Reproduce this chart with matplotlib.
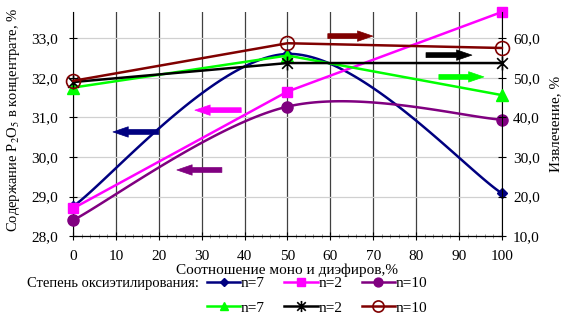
import numpy as np
import matplotlib
matplotlib.use('Agg')
import matplotlib.pyplot as plt
from matplotlib.path import Path
from matplotlib.ticker import MultipleLocator, FuncFormatter

plt.rcParams['font.family'] = ['Liberation Serif', 'DejaVu Serif']
plt.rcParams['mathtext.fontset'] = 'stix'

# данные
x = [0, 50, 100]
# содержание P2O5, % (левая ось)
sod_n7 = [28.75, 32.6, 29.08]
sod_n2 = [28.7, 31.65, 33.66]
sod_n10 = [28.4, 31.27, 30.94]
# извлечение, % (правая ось)
izv_n7 = [47.5, 55.6, 45.6]
izv_n2 = [48.9, 53.7, 53.7]
izv_n10 = [49.2, 58.7, 57.5]

x_ticks = list(range(0, 101, 10))
left_ticks = [28, 29, 30, 31, 32, 33]
right_ticks = [10, 20, 30, 40, 50, 60]

# стрелки-указатели: (x_начало, x_конец, y на левой оси, цвет)
arrows = [
    (20.0, 9.3, 30.63, '#000080'),
    (39.2, 28.4, 31.18, '#FF00FF'),
    (34.7, 24.2, 29.67, '#800080'),
    (59.4, 69.9, 33.05, '#800000'),
    (82.3, 93.0, 32.57, '#000000'),
    (85.3, 95.8, 32.02, '#00FF00'),
]


def smooth(xs, ys, n=60):
    # сглаживание как в Excel (Безье через соседние точки)
    p = np.column_stack([xs, ys]).astype(float)
    pts = np.vstack([p[0], p, p[-1]])
    out = []
    for i in range(1, len(pts) - 2):
        p0, p1, p2, p3 = pts[i - 1], pts[i], pts[i + 1], pts[i + 2]
        c1 = p1 + (p2 - p0) / 6
        c2 = p2 - (p3 - p1) / 6
        t = np.linspace(0, 1, n)[:, None]
        seg = (1 - t) ** 3 * p1 + 3 * (1 - t) ** 2 * t * c1 + 3 * (1 - t) * t ** 2 * c2 + t ** 3 * p2
        out.append(seg)
    s = np.vstack(out)
    return s[:, 0], s[:, 1]


star = Path([(-1, -1), (1, 1), (-1, 1), (1, -1), (0, -1.3), (0, 1.3)],
            [Path.MOVETO, Path.LINETO, Path.MOVETO, Path.LINETO, Path.MOVETO, Path.LINETO])

fig = plt.figure(figsize=(5.71, 3.23), dpi=100)
ax = fig.add_axes([0.128, 0.269, 0.751, 0.694])
ax2 = ax.twinx()

fs = 11
lw = 1.8

# левая ось
sx, sy = smooth(x, sod_n7)
ax.plot(sx, sy, color='#000080', lw=lw, zorder=3)
l1, = ax.plot(x, sod_n7, color='#000080', lw=lw, marker='D', ms=5, ls='none', zorder=3, clip_on=False)
ax.plot(x, sod_n2, color='#FF00FF', lw=lw, zorder=3)
l2, = ax.plot(x, sod_n2, color='#FF00FF', lw=lw, marker='s', ms=7, ls='none', zorder=3, clip_on=False)
sx, sy = smooth(x, sod_n10)
ax.plot(sx, sy, color='#800080', lw=lw, zorder=3)
l3, = ax.plot(x, sod_n10, color='#800080', marker='o', ms=8, ls='none', zorder=3, clip_on=False)

# правая ось
l4, = ax2.plot(x, izv_n7, color='#00FF00', lw=lw, marker='^', ms=8, zorder=3, clip_on=False)
l5, = ax2.plot(x, izv_n2, color='black', lw=lw, marker=star, ms=10, mew=1.2, zorder=3, clip_on=False)
l6, = ax2.plot(x, izv_n10, color='#800000', lw=lw, marker='o', ms=10, mfc='none', mew=1.2, zorder=4,
               clip_on=False)

for x0, x1, yy, c in arrows:
    ax.annotate('', xy=(x1, yy), xytext=(x0, yy),
                arrowprops=dict(arrowstyle='simple,head_length=1.1,head_width=0.75,tail_width=0.35',
                                fc=c, ec=c, lw=0.5, shrinkA=0, shrinkB=0), zorder=5)

ax.set_xlim(0, 100)
ax.set_ylim(28, 33.66)
ax2.set_ylim(10, 66.6)
ax.set_xticks(x_ticks)
ax.set_yticks(left_ticks)
ax2.set_yticks(right_ticks)
ax.xaxis.set_minor_locator(MultipleLocator(2))

fmt = FuncFormatter(lambda v, pos: f"{v:.1f}".replace('.', ','))
ax.yaxis.set_major_formatter(fmt)
ax2.yaxis.set_major_formatter(fmt)

ax.grid(axis='x', color='#404040', lw=0.9)
ax.grid(axis='y', color='#d0d0d0', lw=0.9)
ax.set_axisbelow(True)

for a in (ax, ax2):
    a.spines['top'].set_visible(False)
    a.tick_params(which='major', direction='inout', length=6, width=0.8, labelsize=fs, pad=5)
    a.tick_params(which='minor', direction='inout', length=3, width=0.6, color='#808080')
ax.tick_params(axis='x', pad=7)
ax.tick_params(axis='y', pad=8)
ax2.spines['left'].set_visible(False)
ax.spines['right'].set_visible(False)

ax.set_xlabel('Соотношение моно и диэфиров,%', fontsize=fs, labelpad=0)
ax.set_ylabel('Содержание P$_2$O$_5$ в концентрате, %', fontsize=10.5)
ax.yaxis.set_label_coords(-0.118, 0.52)
ax2.set_ylabel('Извлечение, %', fontsize=fs, labelpad=7)

fig.text(0.047, 0.121, 'Степень оксиэтилирования:', fontsize=10.5, va='center', ha='left')
fig.legend([l1, l4, l2, l5, l3, l6], ['n=7', 'n=7', 'n=2', 'n=2', 'n=10', 'n=10'],
           ncol=3, loc='upper left', bbox_to_anchor=(0.362, 0.145), frameon=False,
           fontsize=fs, handlelength=2.2, handletextpad=0.05, columnspacing=1.25,
           labelspacing=0.72, borderpad=0, borderaxespad=0, markerscale=0.8)

# линии в легенде
for h in fig.legends[0].legend_handles:
    h.set_linestyle('-')
    h.set_linewidth(lw)

fig.savefig('out.png', dpi=100)
